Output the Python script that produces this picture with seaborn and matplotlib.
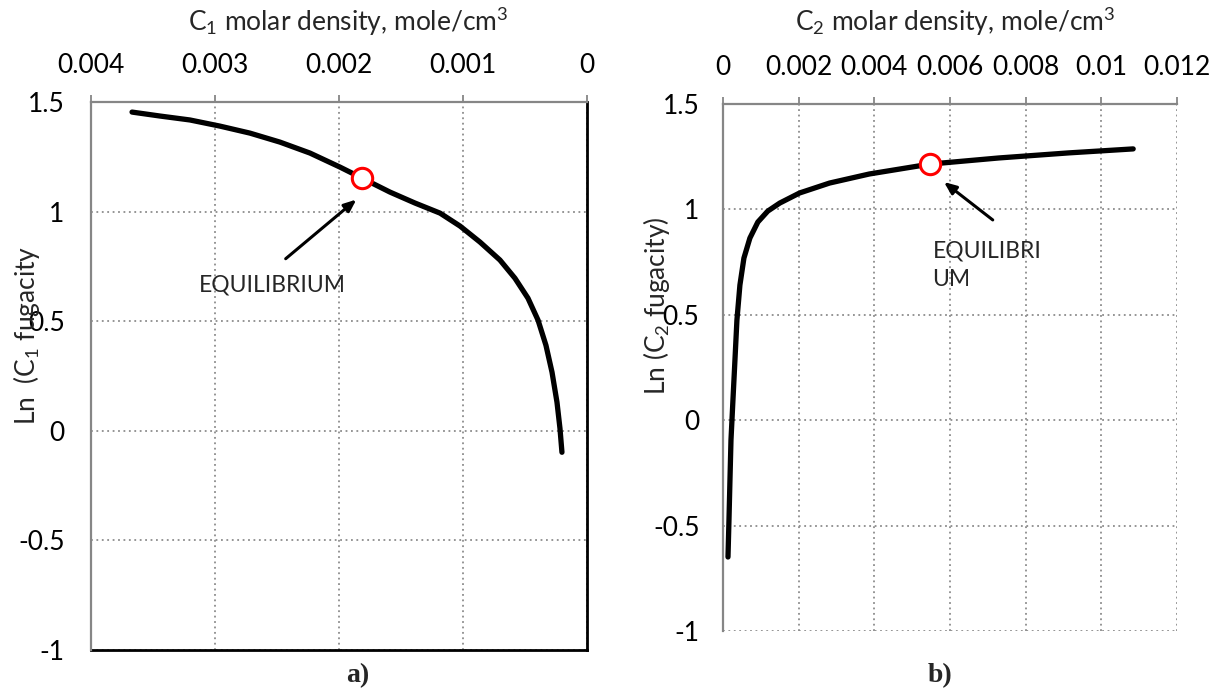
import numpy as np
import pandas as pd
import matplotlib
matplotlib.use("Agg")
import matplotlib.pyplot as plt
import seaborn as sns

# ---------------- data ----------------
c1_density = [0.003669, 0.003444, 0.003202, 0.002960, 0.002718, 0.002476,
              0.002234, 0.001992, 0.001815, 0.001589, 0.001387, 0.001185,
              0.001024, 0.000863, 0.000702, 0.000581, 0.000476, 0.000395,
              0.000331, 0.000282, 0.000242, 0.000218, 0.000202]
c1_ln_fug = [1.454, 1.436, 1.418, 1.390, 1.358, 1.317,
             1.267, 1.203, 1.153, 1.089, 1.039, 0.993,
             0.934, 0.861, 0.779, 0.696, 0.605, 0.505,
             0.390, 0.267, 0.130, 0.011, -0.098]
c1_equil_x = [0.001815]
c1_equil_y = [1.153]

c2_density = [0.000132, 0.000158, 0.000184, 0.000211, 0.000263, 0.000316,
              0.000368, 0.000447, 0.000553, 0.000711, 0.000921, 0.001184,
              0.001500, 0.002026, 0.002816, 0.003868, 0.005474, 0.007289,
              0.009132, 0.010842]
c2_ln_fug = [-0.649, -0.473, -0.284, -0.094, 0.096, 0.286,
             0.475, 0.641, 0.769, 0.864, 0.940, 0.992,
             1.030, 1.078, 1.125, 1.168, 1.215, 1.244,
             1.268, 1.287]
c2_equil_x = [0.005474]
c2_equil_y = [1.215]

c1_xticks = [0.004, 0.003, 0.002, 0.001, 0.0]
c1_xticklabels = ["0.004", "0.003", "0.002", "0.001", "0"]
c2_xticks = [0.0, 0.002, 0.004, 0.006, 0.008, 0.010, 0.012]
c2_xticklabels = ["0", "0.002", "0.004", "0.006", "0.008", "0.01", "0.012"]
yticks = [-1.0, -0.5, 0.0, 0.5, 1.0, 1.5]
yticklabels = ["-1", "-0.5", "0", "0.5", "1", "1.5"]

# ---------------- style ----------------
sns.set_theme(style="white")
FONT = "Lato"
plt.rcParams["font.family"] = [FONT, "DejaVu Sans"]
plt.rcParams["mathtext.fontset"] = "custom"
plt.rcParams["mathtext.rm"] = FONT
plt.rcParams["mathtext.it"] = FONT
plt.rcParams["axes.unicode_minus"] = False

W, H = 1216, 692
fig = plt.figure(figsize=(W / 100, H / 100), dpi=100)

GRAY = "#868686"
GRID = "#8c8c8c"
TICK_FS = 19


def px_axes(x0, y0, x1, y1):
    return fig.add_axes([x0 / W, 1 - y1 / H, (x1 - x0) / W, (y1 - y0) / H])


def style_axes(ax, xticks, xticklabels, box, ypad):
    ax.set_yticks(yticks)
    ax.set_yticklabels(yticklabels)
    ax.set_xticks(xticks)
    ax.set_xticklabels(xticklabels)
    ax.xaxis.tick_top()
    ax.tick_params(axis="both", which="both", direction="out", length=5,
                   width=1.3, color=GRAY, labelsize=TICK_FS, labelcolor="black")
    ax.tick_params(axis="y", pad=ypad)
    ax.tick_params(axis="x", top=True, bottom=False, labeltop=True,
                   labelbottom=False, pad=12)
    ax.grid(True, linestyle=(0, (1, 2)), color=GRID, linewidth=1.3)
    for s in ("left", "top"):
        ax.spines[s].set_color(GRAY)
        ax.spines[s].set_linewidth(1.6)
        ax.spines[s].set_zorder(5)
    if box:
        for s in ("right", "bottom"):
            ax.spines[s].set_color("black")
            ax.spines[s].set_linewidth(2.0)
    else:
        for s in ("right", "bottom"):
            ax.spines[s].set_visible(False)
    ax.set_facecolor("white")


ARROW = dict(arrowstyle="-|>,head_length=0.6,head_width=0.25",
             color="black", lw=2.2, shrinkA=0, shrinkB=0)

# ---------------- panel a ----------------
ax1 = px_axes(91, 102, 587, 650)
df1 = pd.DataFrame({"x": c1_density, "y": c1_ln_fug})
sns.lineplot(data=df1, x="x", y="y", sort=False, color="black", linewidth=3.8,
             ax=ax1, solid_capstyle="round", solid_joinstyle="round")
sns.scatterplot(x=c1_equil_x, y=c1_equil_y, ax=ax1, s=215, marker="o",
                facecolor="white", edgecolor="#ff0000", linewidth=2.2, zorder=6)
ax1.set_xlim(0.004, 0.0)
ax1.set_ylim(-1, 1.5)
style_axes(ax1, c1_xticks, c1_xticklabels, box=True, ypad=14)
ax1.set_xlabel("")
ax1.set_ylabel("")
ax1.annotate("", xy=(0.00186, 1.055), xytext=(0.00243, 0.785), arrowprops=ARROW)
ax1.text(0.00254, 0.667, "EQUILIBRIUM", fontsize=16.5, ha="center", va="center")

# ---------------- panel b ----------------
ax2 = px_axes(723, 104, 1177, 631)
df2 = pd.DataFrame({"x": c2_density, "y": c2_ln_fug})
sns.lineplot(data=df2, x="x", y="y", sort=False, color="black", linewidth=3.8,
             ax=ax2, solid_capstyle="round", solid_joinstyle="round")
sns.scatterplot(x=c2_equil_x, y=c2_equil_y, ax=ax2, s=215, marker="o",
                facecolor="white", edgecolor="#ff0000", linewidth=2.2, zorder=6)
ax2.set_xlim(0.0, 0.012)
ax2.set_ylim(-1, 1.5)
style_axes(ax2, c2_xticks, c2_xticklabels, box=False, ypad=12)
ax2.set_xlabel("")
ax2.set_ylabel("")
ax2.annotate("", xy=(0.00584, 1.13), xytext=(0.00713, 0.95), arrowprops=ARROW)
ax2.text(0.00554, 0.736, "EQUILIBRI\nUM", fontsize=16.5, ha="left", va="center",
         linespacing=1.45)

# ---------------- titles / labels ----------------
fig.text(348 / W, 1 - 22 / H, r"C$_\mathrm{1}$ molar density, mole/cm$^\mathrm{3}$",
         fontsize=19, ha="center", va="center")
fig.text(955 / W, 1 - 22 / H, r"C$_\mathrm{2}$ molar density, mole/cm$^\mathrm{3}$",
         fontsize=19, ha="center", va="center")
fig.text(27 / W, 1 - 335 / H, r"Ln  (C$_\mathrm{1}$ fugacity", fontsize=19,
         rotation=90, ha="center", va="center")
fig.text(657 / W, 1 - 306 / H, r"Ln (C$_\mathrm{2}$ fugacity)", fontsize=19,
         rotation=90, ha="center", va="center")
fig.text(358 / W, 1 - 676 / H, "a)", fontsize=20, fontweight="bold",
         family="Liberation Serif", ha="center", va="center")
fig.text(940 / W, 1 - 676 / H, "b)", fontsize=20, fontweight="bold",
         family="Liberation Serif", ha="center", va="center")

fig.savefig("out.png", dpi=100, facecolor="white")
